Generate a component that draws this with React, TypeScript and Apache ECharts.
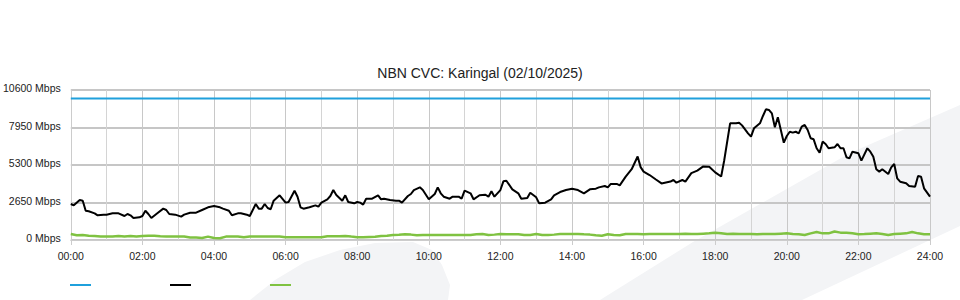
import React, { useEffect, useRef } from "react";
import * as echarts from "echarts";

const titleText = "NBN CVC: Karingal (02/10/2025)";
const yTicks = [0, 2650, 5300, 7950, 10600];
const xTickMinutes = [0, 120, 240, 360, 480, 600, 720, 840, 960, 1080, 1200, 1320, 1440];

const capacityTimes = [0, 1440];
const capacityValues = [10000, 10000];

const downloadTimes = [
  0, 5, 15, 20, 25, 30, 40, 45, 55, 60, 70, 80, 90, 95, 100, 105, 115, 120, 125, 130, 135, 145, 155, 160, 165, 175, 185, 190,
  200, 210, 220, 230, 240, 250, 255, 265, 270, 280, 285, 295, 300, 310, 315, 320, 325, 330, 335, 340, 350, 360, 365, 375, 380,
  385, 390, 400, 410, 415, 420, 430, 435, 440, 445, 455, 460, 465, 475, 480, 485, 490, 495, 505, 515, 520, 525, 535, 545, 550,
  555, 565, 570, 575, 585, 590, 600, 610, 615, 620, 625, 635, 640, 650, 655, 660, 670, 675, 685, 695, 700, 705, 710, 720, 725,
  730, 740, 750, 755, 765, 770, 780, 785, 795, 805, 810, 820, 830, 840, 850, 860, 870, 880, 885, 895, 900, 905, 915, 920, 930,
  940, 950, 955, 960, 970, 980, 990, 1005, 1010, 1015, 1025, 1030, 1040, 1050, 1060, 1070, 1080, 1090, 1095, 1105, 1115, 1120,
  1125, 1135, 1140, 1145, 1155, 1160, 1165, 1170, 1175, 1180, 1185, 1190, 1195, 1200, 1205, 1210, 1215, 1220, 1225, 1230, 1235,
  1240, 1245, 1250, 1255, 1260, 1265, 1270, 1280, 1285, 1290, 1295, 1300, 1305, 1310, 1320, 1325, 1335, 1340, 1345, 1350, 1355,
  1360, 1370, 1375, 1380, 1385, 1390, 1400, 1405, 1415, 1420, 1425, 1430, 1440,
];
const downloadValues = [
  2544, 2450, 2827, 2780, 2070, 2030, 1885, 1745, 1790, 1790, 1885, 1885, 1696, 1837, 1745, 1555, 1600, 1696, 2070, 1837, 1555,
  1885, 2215, 2120, 1837, 1790, 1650, 1790, 1930, 1930, 2120, 2310, 2400, 2310, 2215, 2070, 1745, 1885, 1885, 1790, 1696, 2544,
  2215, 2215, 2544, 2260, 2170, 2780, 3160, 2640, 2685, 3485, 3060, 2310, 2215, 2310, 2450, 2355, 2640, 2875, 3110, 3530, 3180,
  2780, 3160, 2685, 2590, 2685, 2640, 2500, 2920, 2920, 3160, 2875, 2920, 2827, 2780, 2780, 2640, 3110, 3250, 3530, 3720, 3530,
  2875, 3250, 3720, 3300, 3060, 2920, 3060, 3060, 2920, 3485, 3300, 2875, 3160, 3200, 3060, 3440, 3060, 3530, 4145, 4190, 3580,
  3300, 2920, 2968, 3345, 3015, 2590, 2640, 2875, 3160, 3390, 3530, 3625, 3530, 3300, 3580, 3625, 3720, 3815, 3720, 3960, 3960,
  3865, 4475, 5000, 5900, 5150, 4830, 4590, 4290, 4000, 4130, 4240, 4050, 4240, 4130, 4730, 4900, 5200, 5180, 4780, 4490, 5600,
  8245, 8245, 8290, 8100, 7540, 7300, 7890, 8245, 8763, 9236, 9190, 8950, 7965, 8670, 7774, 6875, 7350, 7650, 7585, 7650, 7540,
  8010, 8130, 7774, 7190, 7115, 6480, 6170, 6950, 6785, 6480, 6550, 6785, 6480, 6480, 5845, 5770, 6240, 6125, 5605, 6480, 6240,
  5890, 4995, 4830, 4995, 4665, 5135, 5370, 4360, 4120, 4005, 3815, 3767, 4520, 4475, 3650, 3060,
];

const uploadStepMinutes = 10;
const uploadValues = [
  420, 330, 350, 300, 283, 240, 240, 240, 280, 240, 280, 240, 280, 300, 300, 260, 240, 240, 240, 240, 170, 170, 140, 240, 140,
  120, 240, 240, 240, 190, 240, 240, 240, 240, 240, 240, 190, 190, 190, 190, 190, 190, 190, 260, 260, 260, 283, 240, 200, 190,
  220, 236, 283, 300, 353, 370, 400, 380, 330, 350, 353, 353, 353, 353, 350, 360, 353, 353, 400, 424, 353, 380, 424, 400, 400,
  400, 353, 353, 424, 353, 353, 380, 424, 420, 424, 424, 400, 380, 330, 306, 400, 353, 330, 424, 424, 424, 400, 424, 424, 424,
  424, 424, 424, 440, 424, 424, 450, 470, 520, 480, 424, 450, 424, 424, 424, 400, 424, 424, 424, 450, 470, 424, 400, 353, 470,
  560, 470, 470, 600, 520, 520, 470, 400, 424, 450, 470, 424, 360, 424, 450, 470, 560, 470, 400, 400,
];

const seriesNames = ["Capacity", "Download", "Upload"];
const seriesColors = ["#1fa0dc", "#000000", "#7fc241"];

const FONT = "'Liberation Sans', Arial, Helvetica, sans-serif";

function pairs(times: number[], values: number[]) {
  return times.map((t, i) => [t, values[i]]);
}

function hhmm(v: number) {
  const h = Math.floor(v / 60);
  return (h < 10 ? "0" : "") + h + ":00";
}

export default function App() {
  const ref = useRef<HTMLDivElement>(null);

  useEffect(() => {
    if (!ref.current) return;
    const chart = echarts.init(ref.current, undefined, { renderer: "svg" });
    const uploadData = uploadValues.map((v, i) => [i * uploadStepMinutes, v]);
    const wm = "#f3f4f6";
    chart.setOption({
      animation: false,
      backgroundColor: "#ffffff",
      title: {
        text: titleText,
        left: "center",
        top: 61,
        textStyle: { fontSize: 14, fontWeight: "normal", color: "#222", fontFamily: FONT },
      },
      graphic: [
        {
          type: "polygon",
          z: -10,
          silent: true,
          shape: {
            points: [
              [600, 300], [693, 242], [850, 153], [960, 105], [960, 226], [802, 300],
            ],
          },
          style: { fill: wm },
        },
        {
          type: "polygon",
          z: -10,
          silent: true,
          shape: {
            points: [
              [250, 300], [275, 280], [305, 262], [340, 250], [375, 243], [413, 242], [432, 250], [442, 265], [450, 285], [448, 300],
            ],
          },
          style: { fill: wm },
        },
      ],
      legend: {
        left: 70,
        top: 284,
        padding: 0,
        icon: "rect",
        itemWidth: 21,
        itemHeight: 2,
        itemGap: 79,
        formatter: () => "",
        data: seriesNames,
        selectedMode: false,
      },
      grid: { left: 70, right: 30, top: 90, bottom: 60 },
      xAxis: {
        type: "value",
        min: 0,
        max: 1440,
        interval: 120,
        axisLine: { show: true, lineStyle: { color: "#cccccc", width: 1 } },
        axisTick: { show: true, length: 5, lineStyle: { color: "#cccccc" } },
        axisLabel: {
          formatter: (v: number) => (xTickMinutes.includes(v) ? hhmm(v) : ""),
          fontSize: 10.5,
          color: "#222",
          fontFamily: FONT,
          margin: 10,
          showMinLabel: true,
          showMaxLabel: true,
        },
        splitLine: { show: true, lineStyle: { color: "#c8c8c8", width: 1 } },
        minorTick: { show: false, splitNumber: 2 },
        minorSplitLine: { show: true, lineStyle: { color: "#d4d4d4", width: 1 } },
      },
      yAxis: {
        type: "value",
        min: yTicks[0],
        max: yTicks[yTicks.length - 1],
        interval: 2650,
        axisLine: { show: true, lineStyle: { color: "#cccccc" } },
        axisTick: { show: false },
        axisLabel: {
          formatter: (v: number) => v + " Mbps",
          fontSize: 10.5,
          color: "#222",
          fontFamily: FONT,
          margin: 10,
          verticalAlign: "bottom",
          lineHeight: 4,
        },
        splitLine: { show: true, lineStyle: { color: "#c6c6c6", width: 2 } },
      },
      series: [
        {
          name: seriesNames[0],
          type: "line",
          data: pairs(capacityTimes, capacityValues),
          symbol: "none",
          lineStyle: { color: seriesColors[0], width: 2 },
          itemStyle: { color: seriesColors[0] },
          z: 3,
        },
        {
          name: seriesNames[1],
          type: "line",
          data: pairs(downloadTimes, downloadValues),
          symbol: "none",
          lineStyle: { color: seriesColors[1], width: 2 },
          itemStyle: { color: seriesColors[1] },
          z: 4,
        },
        {
          name: seriesNames[2],
          type: "line",
          data: uploadData,
          symbol: "none",
          lineStyle: { color: seriesColors[2], width: 2.5 },
          itemStyle: { color: seriesColors[2] },
          z: 3,
        },
      ],
    });
    return () => chart.dispose();
  }, []);

  return (
    <div
      ref={ref}
      style={{ position: "fixed", left: 0, top: 0, width: 960, height: 300 }}
    />
  );
}
